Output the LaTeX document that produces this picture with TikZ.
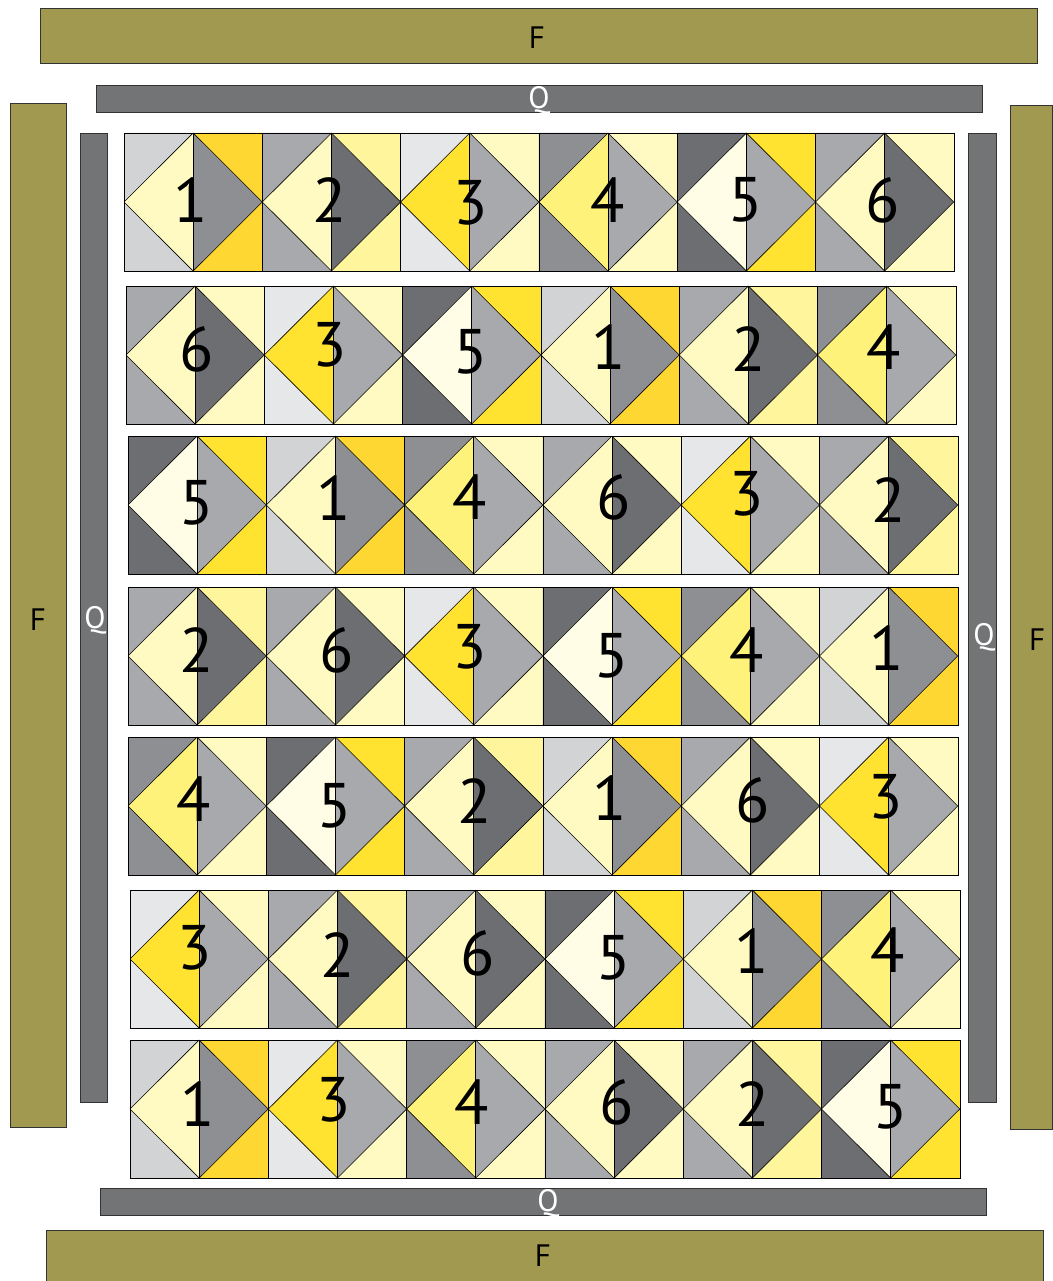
\documentclass[tikz,border=0pt]{standalone}
\usepackage{fontspec}
\setmainfont{PT Sans}
\definecolor{lgray}{HTML}{D1D3D4}
\definecolor{vgray}{HTML}{E6E7E8}
\definecolor{mgray}{HTML}{A7A9AC}
\definecolor{ngray}{HTML}{8E8F92}
\definecolor{dgray}{HTML}{6D6E71}
\definecolor{pale}{HTML}{FFF9C2}
\definecolor{lyel}{HTML}{FFF59D}
\definecolor{syel}{HTML}{FFF27A}
\definecolor{gold}{HTML}{FFD733}
\definecolor{yel}{HTML}{FFE330}
\definecolor{cream}{HTML}{FFFDE5}
\definecolor{olive}{HTML}{A19950}
\definecolor{qgray}{HTML}{737476}
% block types: a = left corners, b = left diamond half, c = right diamond half, d = right corners
\colorlet{t1a}{lgray}\colorlet{t1b}{pale}\colorlet{t1c}{ngray}\colorlet{t1d}{gold}
\colorlet{t2a}{mgray}\colorlet{t2b}{pale}\colorlet{t2c}{dgray}\colorlet{t2d}{lyel}
\colorlet{t3a}{vgray}\colorlet{t3b}{yel}\colorlet{t3c}{mgray}\colorlet{t3d}{pale}
\colorlet{t4a}{ngray}\colorlet{t4b}{syel}\colorlet{t4c}{mgray}\colorlet{t4d}{pale}
\colorlet{t5a}{dgray}\colorlet{t5b}{cream}\colorlet{t5c}{mgray}\colorlet{t5d}{yel}
\colorlet{t6a}{mgray}\colorlet{t6b}{pale}\colorlet{t6c}{dgray}\colorlet{t6d}{pale}
\tikzset{
  seam/.style={draw=black, line width=0.6pt, line join=round},
  fbar/.style={fill=olive, draw=black!80, line width=0.6pt},
  qbar/.style={fill=qgray, draw=black!80, line width=0.6pt},
  num/.style={font=\fontsize{63}{63}\selectfont, inner sep=0pt, text=black},
  flab/.style={font=\fontsize{31}{31}\selectfont, inner sep=0pt, text=black},
  qlab/.style={font=\fontsize{31}{31}\selectfont, inner sep=0pt, text=white},
}
% #1 x, #2 y (top), #3 column index, #4 type
\newcommand\qblk[4]{%
\begin{scope}[shift={({#1+138.3*#3},{-#2})}]
\fill[t#4a] (0,0)--(69.15,0)--(0,-69)--cycle;
\fill[t#4a] (0,-69)--(0,-138)--(69.15,-138)--cycle;
\fill[t#4b] (69.15,0)--(0,-69)--(69.15,-138)--cycle;
\fill[t#4c] (69.15,0)--(138.3,-69)--(69.15,-138)--cycle;
\fill[t#4d] (69.15,0)--(138.3,0)--(138.3,-69)--cycle;
\fill[t#4d] (138.3,-69)--(138.3,-138)--(69.15,-138)--cycle;
\draw[seam] (69.15,0)--(0,-69)--(69.15,-138)--(138.3,-69)--cycle;
\draw[seam] (69.15,0)--(69.15,-138);
\draw[seam] (0,0) rectangle (138.3,-138);
\end{scope}}
\newcommand\qrow[8]{%
\qblk{#1}{#2}{0}{#3}\qblk{#1}{#2}{1}{#4}\qblk{#1}{#2}{2}{#5}%
\qblk{#1}{#2}{3}{#6}\qblk{#1}{#2}{4}{#7}\qblk{#1}{#2}{5}{#8}%
\draw[seam] (#1,-#2) rectangle ({#1+829.8},{-#2-138});}
\begin{document}
\begin{tikzpicture}[x=1pt,y=1pt]
\useasboundingbox (0,0) rectangle (1052,-1281);
\fill[white] (0,0) rectangle (1052,-1281);
% borders
\draw[fbar] (40,-8) rectangle (1037,-63);
\draw[qbar] (96,-85) rectangle (982,-112);
\draw[fbar] (10,-103) rectangle (66,-1127);
\draw[qbar] (80,-133) rectangle (107,-1102);
\draw[qbar] (968,-133) rectangle (996,-1102);
\draw[fbar] (1010,-105) rectangle (1052.5,-1129);
\draw[qbar] (100,-1188) rectangle (986,-1215);
\draw[fbar] (46,-1230) rectangle (1043,-1285);
\node[flab] (fT) at (537,-38) {F};
\node[qlab] (qT) at (539,-100) {Q};
\node[flab] (fL) at (38,-620) {F};
\node[qlab] (qL) at (95,-620) {Q};
\node[qlab] (qR) at (984,-637) {Q};
\node[flab] (fR) at (1037,-640) {F};
\node[qlab] (qB) at (548,-1203) {Q};
\node[flab] (fB) at (543,-1256) {F};
% rows
\qrow{124}{133}{1}{2}{3}{4}{5}{6}
\qrow{126}{286}{6}{3}{5}{1}{2}{4}
\qrow{128}{436}{5}{1}{4}{6}{3}{2}
\qrow{128}{587}{2}{6}{3}{5}{4}{1}
\qrow{128}{737}{4}{5}{2}{1}{6}{3}
\qrow{130}{890}{3}{2}{6}{5}{1}{4}
\qrow{130}{1040}{1}{3}{4}{6}{2}{5}
% numbers
\node[num] (r1a) at (191,-200) {1};
\node[num] (r1b) at (330,-200) {2};
\node[num] (r1c) at (471,-203) {3};
\node[num] (r1d) at (608,-200) {4};
\node[num] (r1e) at (746,-200) {5};
\node[num] (r1f) at (883,-200) {6};
\node[num] (r2a) at (197,-349) {6};
\node[num] (r2b) at (330,-345) {3};
\node[num] (r2c) at (471,-352) {5};
\node[num] (r2d) at (609,-347) {1};
\node[num] (r2e) at (749,-349) {2};
\node[num] (r2f) at (884,-347) {4};
\node[num] (r3a) at (197,-503) {5};
\node[num] (r3b) at (334,-498) {1};
\node[num] (r3c) at (470,-497) {4};
\node[num] (r3d) at (614,-497) {6};
\node[num] (r3e) at (747,-494) {3};
\node[num] (r3f) at (889,-500) {2};
\node[num] (r4a) at (197,-650) {2};
\node[num] (r4b) at (337,-650) {6};
\node[num] (r4c) at (470,-647) {3};
\node[num] (r4d) at (612,-656) {5};
\node[num] (r4e) at (747,-650) {4};
\node[num] (r4f) at (887,-648) {1};
\node[num] (r5a) at (194,-799) {4};
\node[num] (r5b) at (335,-806) {5};
\node[num] (r5c) at (475,-801) {2};
\node[num] (r5d) at (610,-798) {1};
\node[num] (r5e) at (753,-800) {6};
\node[num] (r5f) at (886,-797) {3};
\node[num] (r6a) at (195,-948) {3};
\node[num] (r6b) at (338,-955) {2};
\node[num] (r6c) at (478,-953) {6};
\node[num] (r6d) at (614,-958) {5};
\node[num] (r6e) at (752,-951) {1};
\node[num] (r6f) at (888,-950) {4};
\node[num] (r7a) at (198,-1104) {1};
\node[num] (r7b) at (334,-1100) {3};
\node[num] (r7c) at (472,-1102) {4};
\node[num] (r7d) at (617,-1102) {6};
\node[num] (r7e) at (753,-1104) {2};
\node[num] (r7f) at (891,-1107) {5};
\end{tikzpicture}
\end{document}
